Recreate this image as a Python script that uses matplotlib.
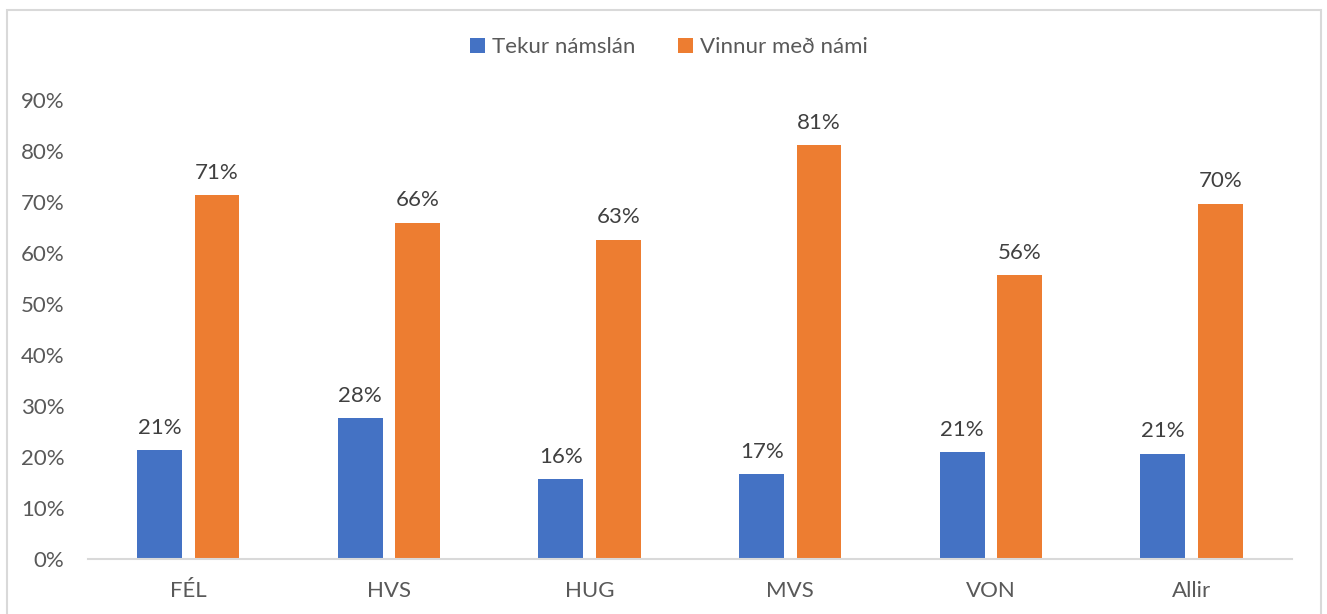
import matplotlib.pyplot as plt
from matplotlib.patches import Rectangle
import numpy as np

plt.rcParams['font.family'] = ['Lato', 'DejaVu Sans']

categories = ['FÉL', 'HVS', 'HUG', 'MVS', 'VON', 'Allir']
namslan = [21.3, 27.6, 15.6, 16.6, 20.9, 20.6]
vinnur = [71.3, 65.9, 62.6, 81.1, 55.6, 69.7]
series_names = ['Tekur námslán', 'Vinnur með námi']

txt = '#595959'
fig = plt.figure(figsize=(13.27, 6.14), dpi=100)
ax = fig.add_axes([0.0663, 0.0896, 0.9073, 0.7475])

x = np.arange(len(categories))
w = 0.224
b1 = ax.bar(x - 0.143, namslan, w, color='#4472C4', label=series_names[0])
b2 = ax.bar(x + 0.143, vinnur, w, color='#ED7D31', label=series_names[1])

for bars in (b1, b2):
    for r in bars:
        ax.annotate(f'{r.get_height():.0f}%', (r.get_x() + r.get_width() / 2, r.get_height()),
                    xytext=(0, 9), textcoords='offset points', ha='center', va='bottom',
                    fontsize=16, color='#404040')

ax.set_xlim(-0.5, len(categories) - 0.5)
ax.set_ylim(0, 90)
ax.set_yticks(range(0, 91, 10))
ax.set_yticklabels([f'{v}%' for v in range(0, 91, 10)])
ax.set_xticks(x)
ax.set_xticklabels(categories)
ax.tick_params(axis='both', length=0, labelsize=16, labelcolor=txt)
ax.tick_params(axis='y', pad=17)
ax.tick_params(axis='x', pad=16)
for s in ['top', 'right', 'left']:
    ax.spines[s].set_visible(False)
ax.spines['bottom'].set_color('#d9d9d9')
ax.spines['bottom'].set_linewidth(1.5)

fig.legend(loc='center', bbox_to_anchor=(0.504, 0.923), ncol=2, frameon=False,
           fontsize=16, labelcolor=txt, handlelength=0.7, handleheight=0.7,
           handletextpad=0.3, columnspacing=1.9)

fig.patches.append(Rectangle((7 / 1327, -0.01), 1314 / 1327, 1 - 10 / 614 + 0.01,
                             transform=fig.transFigure, fill=False,
                             edgecolor='#d9d9d9', linewidth=1.5))

fig.savefig('out.png', dpi=100)
